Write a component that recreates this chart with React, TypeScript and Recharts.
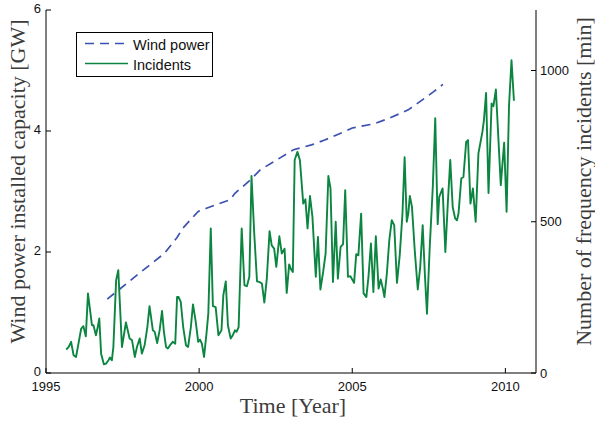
import { ComposedChart, Label, Legend, Line, XAxis, YAxis } from "recharts";

// installed wind power (GW)
const windYears = [1997.0, 1998.0, 1998.87, 1999.28, 1999.46, 1999.97, 2000.22, 2000.65, 2001.0, 2001.17, 2001.67, 2002.0, 2002.43, 2003.08, 2003.67, 2004.1, 2004.7, 2005.0, 2005.72, 2006.2, 2006.83, 2007.22, 2007.66, 2007.96];
const windGW = [1.22, 1.63, 1.98, 2.24, 2.39, 2.67, 2.72, 2.8, 2.86, 2.97, 3.19, 3.36, 3.49, 3.69, 3.77, 3.85, 3.98, 4.05, 4.12, 4.21, 4.35, 4.49, 4.65, 4.77];

// frequency incidents (minutes), roughly monthly
const incidentYears = [
  1995.66, 1995.74, 1995.82, 1995.9, 1995.98, 1996.06, 1996.15, 1996.22, 1996.3, 1996.37, 1996.44, 1996.5, 1996.55, 1996.63, 1996.69, 1996.74, 1996.8, 1996.89, 1996.96, 1997.04, 1997.09, 1997.15, 1997.2, 1997.29, 1997.36,
  1997.48, 1997.61, 1997.73, 1997.81, 1997.9, 1997.97, 1998.06, 1998.13, 1998.22, 1998.31, 1998.38, 1998.49, 1998.55, 1998.63, 1998.71, 1998.79, 1998.85, 1998.92, 1998.98, 1999.05, 1999.14, 1999.22, 1999.28,
  1999.33, 1999.4, 1999.48, 1999.57, 1999.64, 1999.73, 1999.8, 1999.89, 1999.97, 2000.03, 2000.09, 2000.16, 2000.24, 2000.3, 2000.38, 2000.45, 2000.54, 2000.63, 2000.73, 2000.79, 2000.87, 2000.94, 2001.03, 2001.1, 2001.17,
  2001.22, 2001.29, 2001.39, 2001.48, 2001.56, 2001.64, 2001.71, 2001.8, 2001.89, 2001.96, 2002.05, 2002.13, 2002.21, 2002.3, 2002.37, 2002.45, 2002.52, 2002.62, 2002.7, 2002.79, 2002.86, 2002.94, 2002.99, 2003.06,
  2003.12, 2003.21, 2003.29, 2003.4, 2003.47, 2003.54, 2003.62, 2003.7, 2003.81, 2003.88, 2003.96, 2004.05, 2004.13, 2004.22, 2004.29, 2004.37, 2004.46, 2004.53, 2004.62, 2004.7, 2004.77, 2004.86, 2004.94,
  2005.06, 2005.13, 2005.2, 2005.29, 2005.37, 2005.46, 2005.53, 2005.61, 2005.69, 2005.77, 2005.86, 2005.93, 2006.0, 2006.05, 2006.13, 2006.21, 2006.29, 2006.37, 2006.46, 2006.55, 2006.64, 2006.71, 2006.78, 2006.83,
  2006.88, 2006.95, 2007.04, 2007.14, 2007.22, 2007.3, 2007.37, 2007.44, 2007.53, 2007.63, 2007.71, 2007.79, 2007.84, 2007.95, 2008.04, 2008.12, 2008.2, 2008.28, 2008.36, 2008.42, 2008.47, 2008.56, 2008.63, 2008.72,
  2008.78, 2008.86, 2008.94, 2009.03, 2009.12, 2009.25, 2009.3, 2009.37, 2009.45, 2009.55, 2009.61, 2009.69, 2009.85, 2009.96, 2010.04, 2010.12, 2010.2, 2010.28,
];
const incidentMinutes = [
  77, 86, 103, 59, 53, 97, 147, 155, 121, 263, 207, 158, 158, 125, 152, 180, 64, 29, 31, 42, 51, 42, 86, 307, 340,
  86, 167, 114, 108, 53, 86, 114, 64, 92, 152, 221, 141, 136, 99, 141, 205, 136, 86, 81, 92, 103, 97, 251,
  251, 235, 152, 92, 86, 152, 227, 169, 103, 110, 97, 53, 130, 196, 478, 221, 218, 125, 141, 257, 303, 158, 114, 125, 141,
  136, 152, 478, 290, 287, 318, 651, 461, 303, 301, 296, 233, 312, 469, 422, 411, 351, 452, 395, 411, 265, 359, 345, 334,
  704, 731, 704, 560, 574, 478, 585, 516, 318, 450, 276, 334, 395, 651, 610, 301, 500, 312, 417, 426, 604, 318, 320,
  298, 393, 389, 527, 263, 251, 318, 428, 268, 452, 279, 309, 279, 251, 329, 439, 505, 489, 298, 389, 527, 713, 500, 527,
  585, 549, 406, 276, 351, 489, 329, 196, 417, 615, 842, 492, 582, 610, 400, 560, 704, 549, 511, 505, 527, 643, 648, 764,
  770, 560, 610, 500, 726, 797, 836, 926, 595, 891, 882, 937, 621, 761, 533, 886, 1034, 900,
];

const seriesNames = ["Wind power", "Incidents"];
const yearTicks = [1995, 2000, 2005, 2010];
const gwTicks = [0, 2, 4, 6];
const minuteTicks = [0, 500, 1000];

const windData = windYears.map((t, i) => ({ t, wind: windGW[i] }));
const incidentData = incidentYears.map((t, i) => ({ t, incidents: incidentMinutes[i] }));

const windColor = "#3a51b0";
const incidentColor = "#0b8540";
const sans = "'Liberation Sans', Arial, sans-serif";
const serif = "'Liberation Serif', 'Times New Roman', serif";
const tickStyle = { fill: "#111", fontSize: 13, fontFamily: sans };
const labelStyle = { fill: "#3c3c3c", fontSize: 22, fontFamily: serif };

const leftLabel = (props: any) => {
  const vb = props.viewBox;
  const x = vb.x + 25;
  const y = vb.y + vb.height / 2 - 10;
  return (
    <text x={x} y={y} textAnchor="middle" transform={`rotate(-90, ${x}, ${y})`} style={labelStyle}>
      Wind power installed capacity [GW]
    </text>
  );
};

const rightLabel = (props: any) => {
  const vb = props.viewBox;
  const x = vb.x + 54.5;
  const y = vb.y + vb.height / 2 - 10;
  return (
    <text x={x} y={y} textAnchor="middle" transform={`rotate(-90, ${x}, ${y})`} style={labelStyle}>
      Number of frequency incidents [min]
    </text>
  );
};

const bottomLabel = (props: any) => {
  const vb = props.viewBox;
  return (
    <text x={vb.x + vb.width / 2 + 2} y={vb.y + 40} textAnchor="middle" style={labelStyle}>
      Time [Year]
    </text>
  );
};

const renderLegend = (props: any) => {
  const items = [...(props.payload || [])].sort(
    (a: any, b: any) => seriesNames.indexOf(a.value) - seriesNames.indexOf(b.value)
  );
  return (
    <svg width={137} height={45} style={{ display: "block" }}>
      <rect x={0.5} y={0.5} width={136} height={44} fill="#fff" stroke="#000" />
      {items.map((item: any, i: number) => (
        <g key={item.value}>
          <line
            x1={9}
            x2={52}
            y1={11.5 + i * 20}
            y2={11.5 + i * 20}
            stroke={item.color}
            strokeWidth={1.7}
            strokeDasharray={item.payload?.strokeDasharray}
          />
          <text x={57} y={17.5 + i * 20} fontSize={14.5} fontFamily={sans} fill="#111">
            {item.value}
          </text>
        </g>
      ))}
    </svg>
  );
};

export default function App() {
  return (
    <div style={{ position: "absolute", left: 0, top: 0 }}>
      <ComposedChart width={595} height={423} margin={{ top: 10, right: 0, bottom: 0, left: 0 }}>
        <XAxis
          xAxisId="bottom"
          dataKey="t"
          type="number"
          domain={[1995, 2011]}
          ticks={yearTicks}
          height={50}
          tickSize={-5}
          tickMargin={14}
          stroke="#000"
          tick={tickStyle}
          allowDataOverflow
        >
          <Label content={bottomLabel} />
        </XAxis>
        <XAxis
          xAxisId="top"
          orientation="top"
          dataKey="t"
          type="number"
          domain={[1995, 2011]}
          ticks={[2000, 2005, 2010]}
          height={0}
          tickSize={-5}
          tickFormatter={() => ""}
          stroke="#000"
        />
        <YAxis
          yAxisId="left"
          domain={[0, 6]}
          ticks={gwTicks}
          width={46}
          tickSize={-5}
          tickMargin={10}
          stroke="#000"
          tick={{ ...tickStyle, dy: -1.5 }}
        >
          <Label content={leftLabel} />
        </YAxis>
        <YAxis
          yAxisId="mirror"
          orientation="right"
          domain={[0, 6]}
          ticks={[2, 4]}
          width={0}
          tickSize={-5}
          tickFormatter={() => ""}
          stroke="#000"
        />
        <YAxis
          yAxisId="right"
          orientation="right"
          domain={[0, 1200]}
          ticks={minuteTicks}
          width={59}
          tickSize={-5}
          tickMargin={9}
          stroke="#000"
          tick={tickStyle}
        >
          <Label content={rightLabel} />
        </YAxis>
        <Line
          xAxisId="bottom"
          yAxisId="left"
          data={windData}
          dataKey="wind"
          name="Wind power"
          stroke={windColor}
          strokeWidth={1.7}
          strokeDasharray="9 6"
          dot={false}
          activeDot={false}
          isAnimationActive={false}
        />
        <Line
          xAxisId="bottom"
          yAxisId="right"
          data={incidentData}
          dataKey="incidents"
          name="Incidents"
          stroke={incidentColor}
          strokeWidth={1.9}
          strokeLinejoin="round"
          dot={false}
          activeDot={false}
          isAnimationActive={false}
        />
        <Legend
          layout="vertical"
          align="center"
          verticalAlign="middle"
          content={renderLegend}
          wrapperStyle={{ left: 76, top: 32, width: 137, height: 45 }}
        />
      </ComposedChart>
    </div>
  );
}
